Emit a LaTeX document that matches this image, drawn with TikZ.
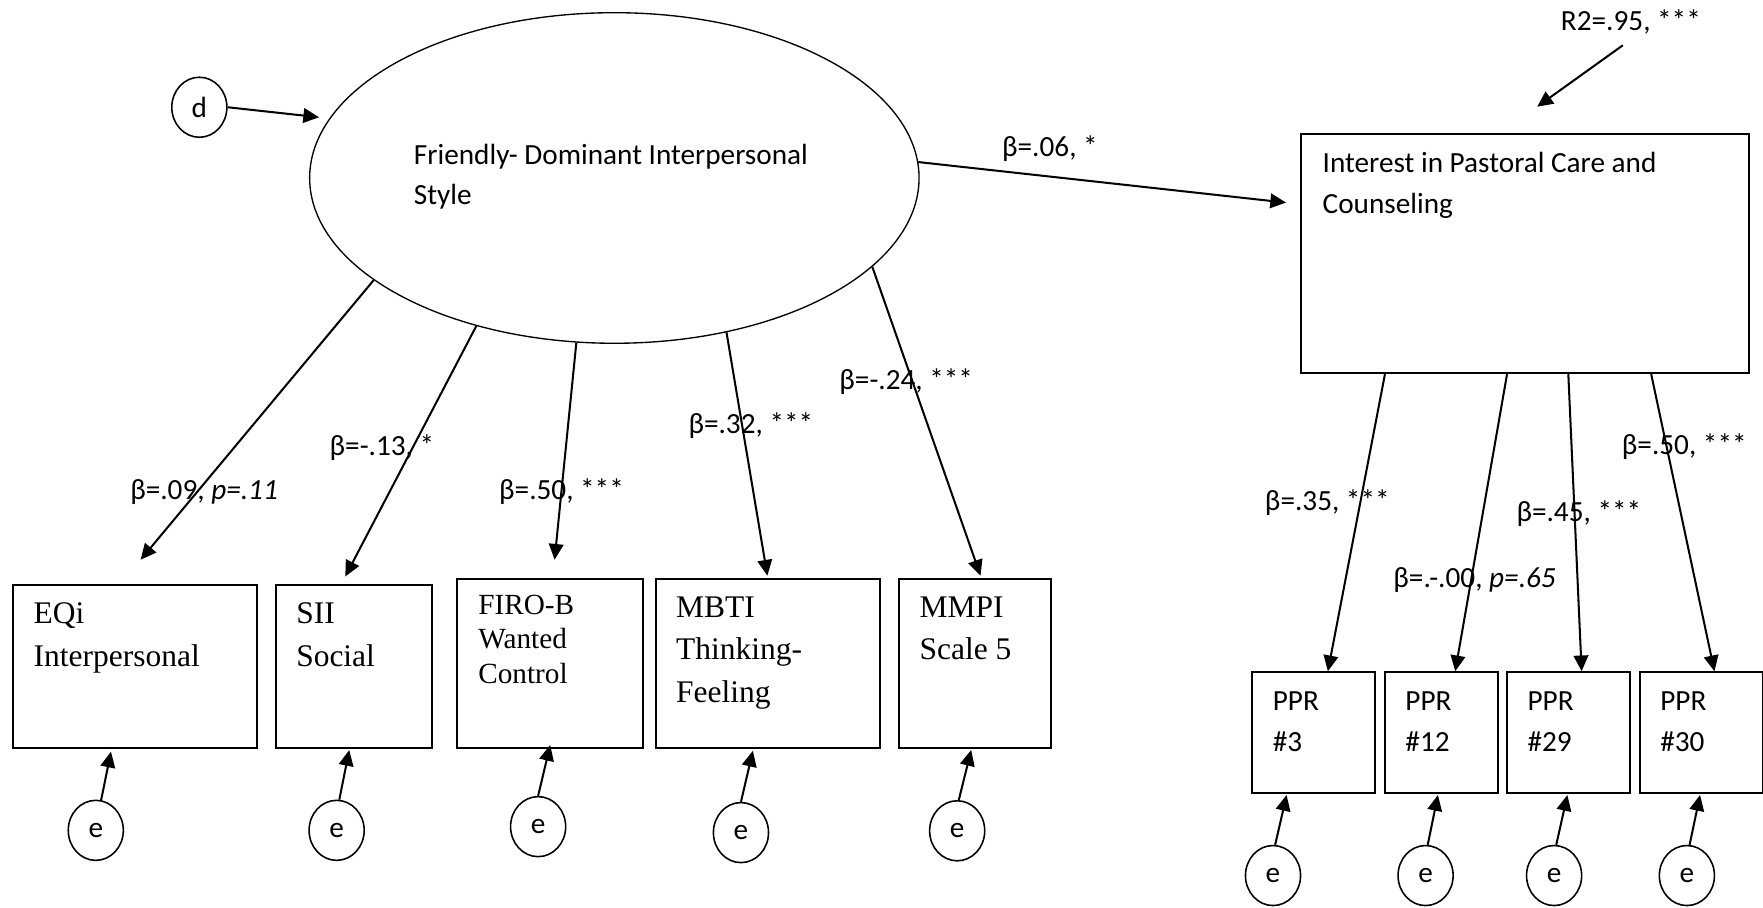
\documentclass[tikz,border=0pt]{standalone}
\usepackage{fontspec}
\setmainfont{Liberation Serif}
\newfontfamily\calib{Carlito}
\usetikzlibrary{shapes.geometric,arrows.meta}
\newcommand\stk[1]{\begin{tabular}[t]{@{}l@{}}#1\end{tabular}}
\begin{document}
\begin{tikzpicture}[x=0.5pt,y=-0.5pt,
  box/.style={draw, line width=0.9pt, rectangle, inner sep=0pt, anchor=north west},
  err/.style={draw, line width=0.7pt, ellipse, inner sep=0pt, minimum width=24.5pt, minimum height=26.7pt, font=\calib\fontsize{13}{15}\selectfont},
  arr/.style={line width=0.9pt, -{Triangle[length=7pt,width=6.5pt]}},
  lbl/.style={anchor=base, inner sep=0pt, font=\calib\fontsize{13}{15}\selectfont},
  btxt/.style={anchor=base west, inner sep=0pt},
]
\useasboundingbox (0,0) rectangle (1568,807);

% latent variable
\node[draw, ellipse, line width=0.6pt, inner sep=0pt, minimum width=271pt, minimum height=147pt] (ell) at (546.4,158.3) {};
\node[btxt, font=\calib\fontsize{13}{17.75}\selectfont] (ellt) at (367.8,146.7) {\stk{Friendly- Dominant Interpersonal\\Style}};
\node[err] (d) at (177.3,95.4) {d};

% outcome
\node[box, minimum width=199.25pt, minimum height=106.5pt] (int) at (1156.4,118) {};
\node[btxt, font=\calib\fontsize{13}{18.6}\selectfont] (intt) at (1176,153) {\stk{Interest in Pastoral Care and\\Counseling}};

% indicator boxes (left)
\node[box, minimum width=108.5pt, minimum height=72.5pt] (eqi) at (11,519) {};
\node[box, minimum width=69.2pt, minimum height=72.5pt] (sii) at (244.5,519) {};
\node[box, minimum width=82.55pt, minimum height=75pt] (firo) at (405.7,514) {};
\node[box, minimum width=99.8pt, minimum height=75pt] (mbti) at (582.4,514) {};
\node[box, minimum width=67.45pt, minimum height=75pt] (mmpi) at (798.7,514) {};
\node[btxt, font=\fontsize{14}{19.3}\selectfont] (eqit) at (29.6,554.1) {\stk{EQi\\Interpersonal}};
\node[btxt, font=\fontsize{14}{19.3}\selectfont] (siit) at (263.1,554.1) {\stk{SII\\Social}};
\node[btxt, font=\fontsize{13}{15.2}\selectfont] (firot) at (425,546.7) {\stk{FIRO-B\\Wanted\\Control}};
\node[btxt, font=\fontsize{14}{18.9}\selectfont] (mbtit) at (601,548.8) {\stk{MBTI\\Thinking-\\Feeling}};
\node[btxt, font=\fontsize{14}{19}\selectfont] (mmpit) at (817.5,548.8) {\stk{MMPI\\Scale 5}};

% indicator boxes (right)
\node[box, minimum width=54.8pt, minimum height=53.5pt] (ppr3) at (1112.4,597) {};
\node[box, minimum width=50.25pt, minimum height=53.5pt] (ppr12) at (1230.9,597) {};
\node[box, minimum width=54.6pt, minimum height=53.5pt] (ppr29) at (1339.7,597) {};
\node[box, minimum width=54.3pt, minimum height=53.5pt] (ppr30) at (1458.1,597) {};
\node[btxt, font=\calib\fontsize{13}{18.2}\selectfont] (ppr3t) at (1131.6,631.8) {\stk{PPR\\\#3}};
\node[btxt, font=\calib\fontsize{13}{18.2}\selectfont] (ppr12t) at (1249.6,631.8) {\stk{PPR\\\#12}};
\node[btxt, font=\calib\fontsize{13}{18.2}\selectfont] (ppr29t) at (1358.2,631.8) {\stk{PPR\\\#29}};
\node[btxt, font=\calib\fontsize{13}{18.2}\selectfont] (ppr30t) at (1476.3,631.8) {\stk{PPR\\\#30}};

% error terms
\node[err] (ee1) at (85.2,738.5) {e};
\node[err] (ee2) at (299.4,738.5) {e};
\node[err] (ee3) at (478.6,735.2) {e};
\node[err] (ee4) at (659,740.5) {e};
\node[err] (ee5) at (851.3,738.9) {e};
\node[err] (pe1) at (1132.2,778.7) {e};
\node[err] (pe2) at (1267.9,778.7) {e};
\node[err] (pe3) at (1382.2,778.7) {e};
\node[err] (pe4) at (1500.3,778.7) {e};

% labels
\node[lbl] (l06) at (933.8,139.3) {β=.06, *};
\node[lbl] (r2) at (1450.5,26.8) {R2=.95, ***};
\node[lbl] (l1) at (181.5,443.9) {β=.09, \textit{p=.11}};
\node[lbl] (l2) at (339.7,405.4) {β=-.13, *};
\node[lbl] (l3) at (499.4,444) {β=.50, ***};
\node[lbl] (l4) at (667.8,385.2) {β=.32, ***};
\node[lbl] (l5) at (806,346.1) {β=-.24, ***};
\node[lbl] (l6) at (1180.5,454) {β=.35, ***};
\node[lbl] (l7) at (1311.5,522.1) {β=.-.00, \textit{p=.65}};
\node[lbl] (l8) at (1404.2,463.8) {β=.45, ***};
\node[lbl] (l9) at (1498,404.5) {β=.50, ***};

% connectors
\draw[arr] (d.east) -- ([shift={(9,-54)}]ell.west);
\draw[arr] (ell.3.7) -- ([shift={(-12.6,-45.2)}]int.west);
\draw[arr] ([shift={(-7.2,13.5)}]r2.base) -- ([shift={(10.6,-23.1)}]int.north);

\draw[arr] (ell.203.7) -- ([shift={(4.7,-21.2)}]eqi.north);
\draw[arr] (ell.227.7) -- ([shift={(-7.5,-6.3)}]sii.north);
\draw[arr] (ell.257.45) -- ([shift={(4.1,-16.2)}]firo.north);
\draw[arr] (ell.306.8) -- ([shift={(-0.6,-2)}]mbti.north);
\draw[arr] (ell.341.9) -- ([shift={(5,-2)}]mmpi.north);

\draw[arr] ([shift={(-124.8,0)}]int.south) -- ([shift={(12.9,0)}]ppr3.north);
\draw[arr] ([shift={(-16.2,0)}]int.south) -- ([shift={(12.2,0)}]ppr12.north);
\draw[arr] ([shift={(38.3,0)}]int.south) -- ([shift={(11.5,0)}]ppr29.north);
\draw[arr] ([shift={(112,0)}]int.south) -- ([shift={(11.5,0)}]ppr30.north);

\draw[arr] (ee1.80) -- ([shift={(-21.7,2.7)}]eqi.south);
\draw[arr] (ee2.85) -- ([shift={(-4,1.3)}]sii.south);
\draw[arr] (ee3.90) -- ([shift={(0.2,-3.2)}]firo.south);
\draw[arr] (ee4.90) -- ([shift={(-13.5,2)}]mbti.south);
\draw[arr] (ee5.87) -- ([shift={(-3.3,1.3)}]mmpi.south);
\draw[arr] (pe1.86) -- ([shift={(-23.8,1.3)}]ppr3.south);
\draw[arr] (pe2.86) -- ([shift={(-3.2,1.3)}]ppr12.south);
\draw[arr] (pe3.86) -- ([shift={(-1.2,1.3)}]ppr29.south);
\draw[arr] (pe4.85) -- ([shift={(-1.3,1.3)}]ppr30.south);
\end{tikzpicture}
\end{document}
